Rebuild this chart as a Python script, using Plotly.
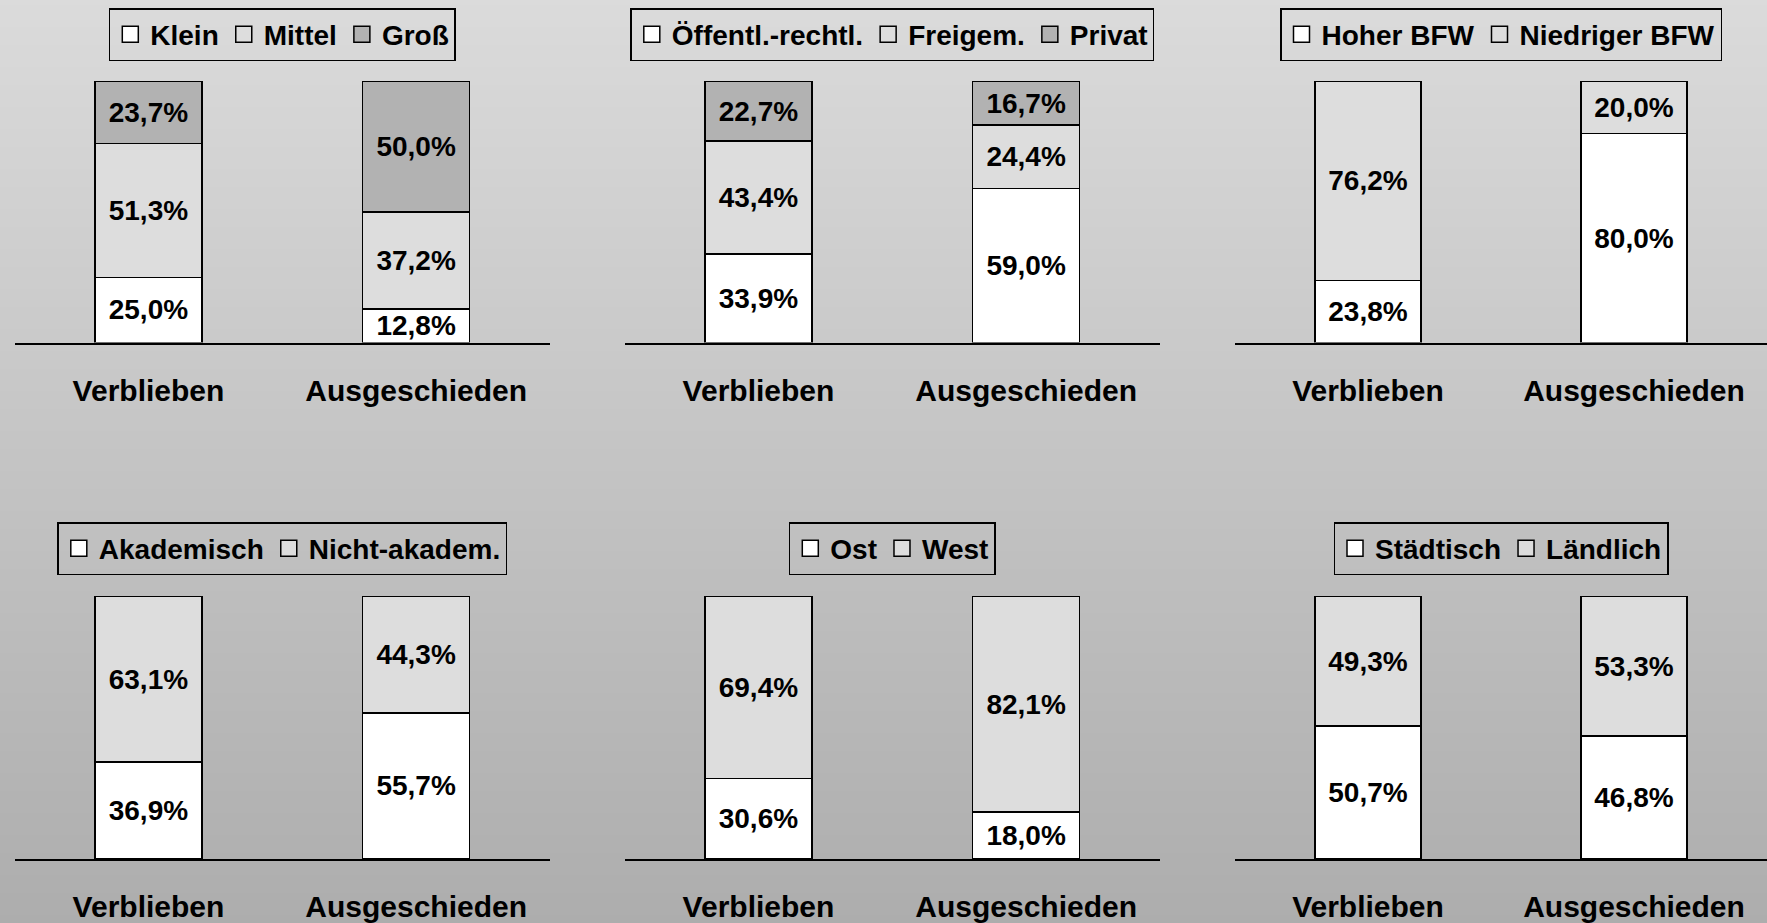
import base64
import struct
import zlib
import plotly.graph_objects as go

# ---------------- data ----------------
categories = ["Verblieben", "Ausgeschieden"]

# Panel 1: Größe
klein = [25.0, 12.8]
mittel = [51.3, 37.2]
gross = [23.7, 50.0]

# Panel 2: Trägerschaft
oeffentl = [33.9, 59.0]
freigem = [43.4, 24.4]
privat = [22.7, 16.7]

# Panel 3: BFW
hoher_bfw = [23.8, 80.0]
niedriger_bfw = [76.2, 20.0]

# Panel 4: Akademisch
akademisch = [36.9, 55.7]
nicht_akadem = [63.1, 44.3]

# Panel 5: Ost / West
ost = [30.6, 18.0]
west = [69.4, 82.1]

# Panel 6: Städtisch / Ländlich
staedtisch = [50.7, 46.8]
laendlich = [49.3, 53.3]

WHITE = "#ffffff"
LIGHT = "#dddddd"
DARK = "#b2b2b2"

panels = [
    [("Klein", klein, WHITE), ("Mittel", mittel, LIGHT), ("Groß", gross, DARK)],
    [("Öffentl.-rechtl.", oeffentl, WHITE), ("Freigem.", freigem, LIGHT), ("Privat", privat, DARK)],
    [("Hoher BFW", hoher_bfw, WHITE), ("Niedriger BFW", niedriger_bfw, LIGHT)],
    [("Akademisch", akademisch, WHITE), ("Nicht-akadem.", nicht_akadem, LIGHT)],
    [("Ost", ost, WHITE), ("West", west, LIGHT)],
    [("Städtisch", staedtisch, WHITE), ("Ländlich", laendlich, LIGHT)],
]

# ---------------- layout geometry ----------------
W, H = 1767, 923
x_domains = [(14.6 / W, 550 / W), (624.6 / W, 1160 / W), (1235 / W, 1.0)]
y_domains = [(1 - 342.6 / H, 1 - 81 / H), (1 - 859 / H, 1 - 596 / H)]
legend_centers = [282.3 / W, 892.3 / W, 1501 / W]
legend_tops = [1 - 8 / H, 1 - 522 / H]

FONT = "Liberation Sans, Arial, sans-serif"


def gradient_png(top, bottom, n=256, w=4):
    rows = b""
    for i in range(n):
        v = round(top + (bottom - top) * i / (n - 1))
        rows += b"\x00" + bytes([v]) * w

    def chunk(tag, data):
        return (struct.pack(">I", len(data)) + tag + data
                + struct.pack(">I", zlib.crc32(tag + data) & 0xFFFFFFFF))

    png = (b"\x89PNG\r\n\x1a\n"
           + chunk(b"IHDR", struct.pack(">IIBBBBB", w, n, 8, 0, 0, 0, 0))
           + chunk(b"IDAT", zlib.compress(rows))
           + chunk(b"IEND", b""))
    return "data:image/png;base64," + base64.b64encode(png).decode()


fig = go.Figure()
layout = {}

for i, series in enumerate(panels):
    row, col = divmod(i, 3)
    idx = i + 1
    xa = "x" if idx == 1 else f"x{idx}"
    ya = "y" if idx == 1 else f"y{idx}"
    leg = "legend" if idx == 1 else f"legend{idx}"
    for name, vals, color in series:
        fig.add_trace(go.Bar(
            x=categories, y=vals, name=name,
            xaxis=xa, yaxis=ya, legend=leg, showlegend=False,
            width=0.4,
            marker=dict(color=color, line=dict(color="black", width=1.5)),
            texttemplate="%{y:.1f}%",
            textposition="inside",
            insidetextanchor="middle",
            textangle=0,
            textfont=dict(family=FONT, size=28, color="black", weight="bold"),
            cliponaxis=False,
            hoverinfo="skip",
        ))
        # legend entry (square swatch like the original legend key)
        fig.add_trace(go.Scatter(
            x=[None], y=[None], name=name, mode="markers",
            xaxis=xa, yaxis=ya, legend=leg, showlegend=True,
            marker=dict(symbol="square", size=16, color=color,
                        line=dict(color="black", width=1.5)),
            hoverinfo="skip",
        ))
    xkey = "xaxis" if idx == 1 else f"xaxis{idx}"
    ykey = "yaxis" if idx == 1 else f"yaxis{idx}"
    layout[xkey] = dict(
        domain=list(x_domains[col]), anchor=ya, type="category",
        categoryorder="array", categoryarray=categories,
        range=[-0.5, 1.5], showline=True, linecolor="black", linewidth=2,
        showgrid=False, zeroline=False, ticks="", automargin=False,
        ticklabelstandoff=20,
        tickfont=dict(family=FONT, size=30, color="black", weight="bold"),
        fixedrange=True,
    )
    layout[ykey] = dict(
        domain=list(y_domains[row]), anchor=xa, range=[0, 100.2],
        visible=False, showgrid=False, zeroline=False, fixedrange=True,
        automargin=False,
    )
    layout[leg] = dict(
        orientation="h", x=legend_centers[col], xanchor="center",
        y=legend_tops[row], yanchor="top",
        bgcolor="rgba(0,0,0,0)", bordercolor="black", borderwidth=1.5,
        font=dict(family=FONT, size=28, color="black", weight="bold"),
        traceorder="normal", itemwidth=30, itemsizing="trace",
    )

fig.update_layout(
    width=W, height=H, autosize=False,
    margin=dict(l=0, r=0, t=0, b=0, pad=0),
    barmode="stack",
    separators=",.",
    paper_bgcolor="#c4c4c4",
    plot_bgcolor="rgba(0,0,0,0)",
    uniformtext=dict(mode="show", minsize=28),
    showlegend=True,
    images=[dict(
        source=gradient_png(219, 173),
        xref="paper", yref="paper", x=-0.01, y=1.005, sizex=1.02, sizey=1.01,
        xanchor="left", yanchor="top", sizing="stretch", layer="below",
    )],
    **layout,
)

fig.write_html("out.html")
